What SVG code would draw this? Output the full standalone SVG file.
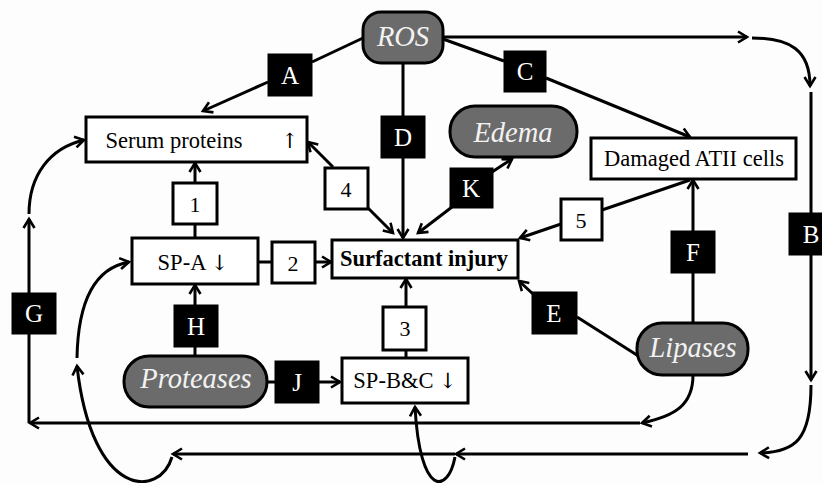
<svg xmlns="http://www.w3.org/2000/svg" width="822" height="483" viewBox="0 0 822 483">
<defs>
<marker id="ar" viewBox="0 0 14 14" refX="11" refY="7" markerWidth="14" markerHeight="14" markerUnits="userSpaceOnUse" orient="auto">
<path d="M2,1.5 L11,7 L2,12.5" fill="none" stroke="#000" stroke-width="2.6" stroke-linejoin="miter"/>
</marker>
</defs>
<style>
.c{fill:none;stroke:#000;stroke-width:3}
.a{marker-end:url(#ar)}
.bx{fill:#fff;stroke:#000;stroke-width:3}
.lb{fill:#000;stroke:#000;stroke-width:1}
.gr{fill:#6b6b6b;stroke:#000;stroke-width:3}
.t{font-family:"Liberation Serif","Times New Roman",serif;font-size:22.5px;fill:#000;text-anchor:middle}
.tb{font-family:"Liberation Serif","Times New Roman",serif;font-size:22.5px;font-weight:bold;fill:#000;text-anchor:middle}
.ti{font-family:"Liberation Serif","Times New Roman",serif;font-size:28.5px;font-style:italic;fill:#f2f2f2;text-anchor:middle}
.tl{font-family:"Liberation Serif","Times New Roman",serif;font-size:25px;fill:#fff;text-anchor:middle}
.tn{font-family:"Liberation Serif","Times New Roman",serif;font-size:22px;fill:#000;text-anchor:middle}
.ar{font-family:"DejaVu Serif","DejaVu Sans",serif;font-size:21px;fill:#000}
</style>
<rect width="822" height="483" fill="#fdfdfd"/>
<g id="connectors">
<path class="c" d="M363,38 L312,62"/>
<path class="c a" d="M268,82 L203,111"/>
<path class="c" d="M443,39 L504,61"/>
<path class="c a" d="M546,78 L690,137"/>
<path class="c a" d="M443,37 L747,37"/>
<path class="c a" d="M752,38 C790,38 810,50 810,86"/>
<path class="c a" d="M811,92 L811,380"/>
<path class="c a" d="M811,385 C811,440 795,452 760,453"/>
<path class="c a" d="M748,454 L456,454"/>
<path class="c a" d="M455,454 L173,454"/>
<path class="c a" d="M455,457 C448,494 420,498 415,407"/>
<path class="c a" d="M172,457 C160,498 92,500 77,366"/>
<path class="c a" d="M77,358 C78,300 95,268 129,262"/>
<path class="c a" d="M693,375 C693,405 675,416 642,423"/>
<path class="c a" d="M640,423 L30,423"/>
<path class="c a" d="M29,423 L29,219"/>
<path class="c a" d="M29,214 C29,175 50,148 84,140"/>
<path class="c a" d="M195,238 L195,163"/>
<path class="c a" d="M195,356 L195,285"/>
<path class="c a" d="M267,382 L340,382"/>
<path class="c a" d="M406,358 L406,279"/>
<path class="c a" d="M258,262 L331,262"/>
<path class="c a" d="M403,63 L403,238"/>
<path class="c a" d="M333,167 L308,142"/>
<path class="c a" d="M368,208 L393,233"/>
<path class="c a" d="M452,207 L418,233"/>
<path class="c a" d="M492,172 L512,159"/>
<path class="c" d="M690,180 L602,210"/>
<path class="c a" d="M561,224 L520,238"/>
<path class="c a" d="M693,323 L693,180"/>
<path class="c" d="M640,357 L577,317"/>
<path class="c a" d="M533,294 L519,281"/>
</g>
<g id="ros"><rect class="gr" x="363" y="12" width="80" height="51" rx="18"/><text class="ti" x="403" y="46">ROS</text></g>
<g id="edema"><rect class="gr" x="450" y="106" width="127" height="51" rx="25"/><text class="ti" x="513" y="142">Edema</text></g>
<g id="proteases"><rect class="gr" x="124" y="356" width="143" height="51" rx="25"/><text class="ti" x="196" y="388">Proteases</text></g>
<g id="lipases"><rect class="gr" x="637" y="323" width="111" height="52" rx="25"/><text class="ti" x="693" y="357">Lipases</text></g>
<g id="serum"><rect class="bx" x="86" y="117" width="221" height="45"/><text class="t" x="174" y="148">Serum proteins</text><text class="ar" x="281" y="148">↑</text></g>
<g id="atii"><rect class="bx" x="591" y="138" width="205" height="41"/><text class="t" x="694" y="166">Damaged ATII cells</text></g>
<g id="surfactant"><rect class="bx" x="332" y="240" width="186" height="38"/><text class="tb" x="424" y="266">Surfactant injury</text></g>
<g id="spa"><rect class="bx" x="132" y="238" width="126" height="46"/><text class="t" x="193" y="270">SP-A <tspan class="ar">↓</tspan></text></g>
<g id="spbc"><rect class="bx" x="342" y="358" width="126" height="45"/><text class="t" x="405" y="388">SP-B&amp;C <tspan class="ar">↓</tspan></text></g>
<g id="n1"><rect class="bx" x="173" y="183" width="44" height="41"/><text class="tn" x="195" y="212">1</text></g>
<g id="n2"><rect class="bx" x="272" y="242" width="43" height="41"/><text class="tn" x="293" y="271">2</text></g>
<g id="n3"><rect class="bx" x="383" y="307" width="43" height="43"/><text class="tn" x="405" y="336">3</text></g>
<g id="n4"><rect class="bx" x="325" y="168" width="43" height="41"/><text class="tn" x="346" y="197">4</text></g>
<g id="n5"><rect class="bx" x="561" y="199" width="41" height="41"/><text class="tn" x="581" y="228">5</text></g>
<g id="lA"><rect class="lb" x="268" y="54" width="44" height="42"/><text class="tl" x="290" y="84">A</text></g>
<g id="lB"><rect class="lb" x="789" y="213" width="44" height="42"/><text class="tl" x="811" y="243">B</text></g>
<g id="lC"><rect class="lb" x="504" y="51" width="42" height="41"/><text class="tl" x="525" y="80">C</text></g>
<g id="lD"><rect class="lb" x="381" y="116" width="44" height="42"/><text class="tl" x="403" y="146">D</text></g>
<g id="lE"><rect class="lb" x="532" y="292" width="45" height="42"/><text class="tl" x="554" y="322">E</text></g>
<g id="lF"><rect class="lb" x="671" y="231" width="44" height="42"/><text class="tl" x="693" y="261">F</text></g>
<g id="lG"><rect class="lb" x="12" y="293" width="44" height="41"/><text class="tl" x="34" y="322">G</text></g>
<g id="lH"><rect class="lb" x="174" y="305" width="44" height="42"/><text class="tl" x="196" y="335">H</text></g>
<g id="lJ"><rect class="lb" x="275" y="361" width="44" height="42"/><text class="tl" x="297" y="391">J</text></g>
<g id="lK"><rect class="lb" x="450" y="168" width="43" height="40"/><text class="tl" x="471" y="197">K</text></g>
</svg>
